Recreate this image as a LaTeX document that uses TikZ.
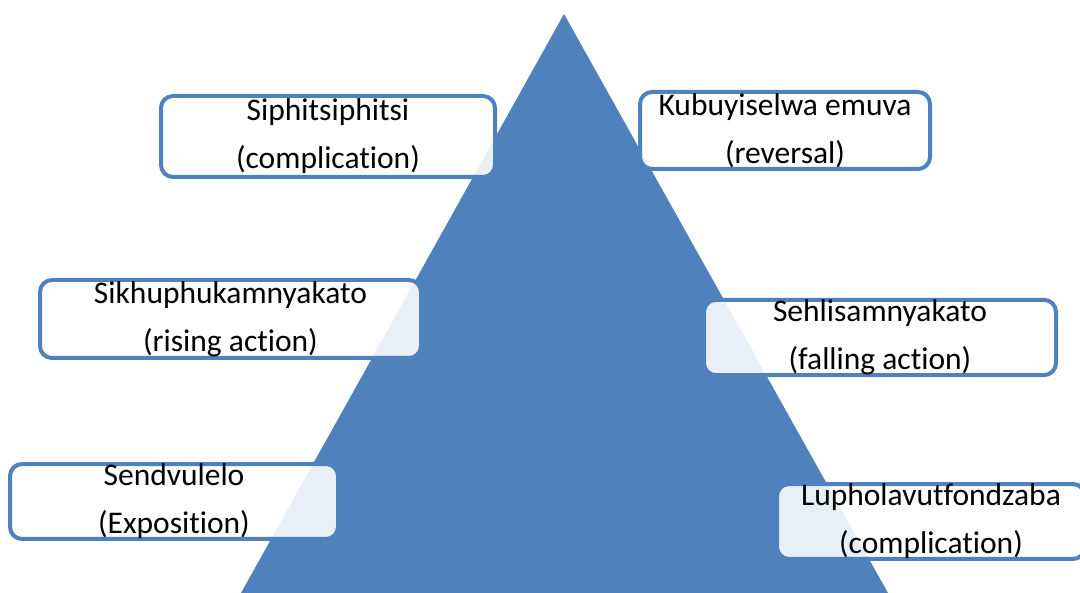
\documentclass[tikz,border=0pt]{standalone}
\usepackage{fontspec}
\setmainfont{Carlito}[Ligatures=NoCommon]
\definecolor{pyrblue}{HTML}{4F81BD}
\begin{document}
\begin{tikzpicture}[x=1pt,y=-1pt,
  stage/.style={draw=pyrblue, line width=4pt, fill=white, fill opacity=0.88,
    text opacity=1, rounded corners=12pt, align=center, inner sep=0pt,
    font=\fontsize{31.5}{48}\selectfont, text=black}]
\useasboundingbox (0,0) rectangle (1080,593);
\begin{scope}
\clip (0,0) rectangle (1080,593);
\fill[pyrblue] (564,14) coordinate (apex) -- (241,593) coordinate (bl) -- (888,593) coordinate (br) -- cycle;
\node[stage, minimum width=334pt, minimum height=81pt] (comp) at (328,136.5) {Siphitsiphitsi\\(complication)};
\node[stage, minimum width=290pt, minimum height=77pt] (rev) at (785,130.5) {Kubuyiselwa emuva\\(reversal)};
\node[stage, minimum width=381pt, minimum height=78pt] (rise) at (230.5,319) {Sikhuphukamnyakato\\(rising action)};
\node[stage, minimum width=352pt, minimum height=73pt] (fall) at (880,337.5) {Sehlisamnyakato\\(falling action)};
\node[stage, minimum width=328pt, minimum height=67pt] (expo) at (174,501.5) {Sendvulelo\\(Exposition)};
\node[stage, minimum width=308pt, minimum height=67pt] (reso) at (931,521.5) {Lupholavutfondzaba\\(complication)};
\end{scope}
\end{tikzpicture}
\end{document}
